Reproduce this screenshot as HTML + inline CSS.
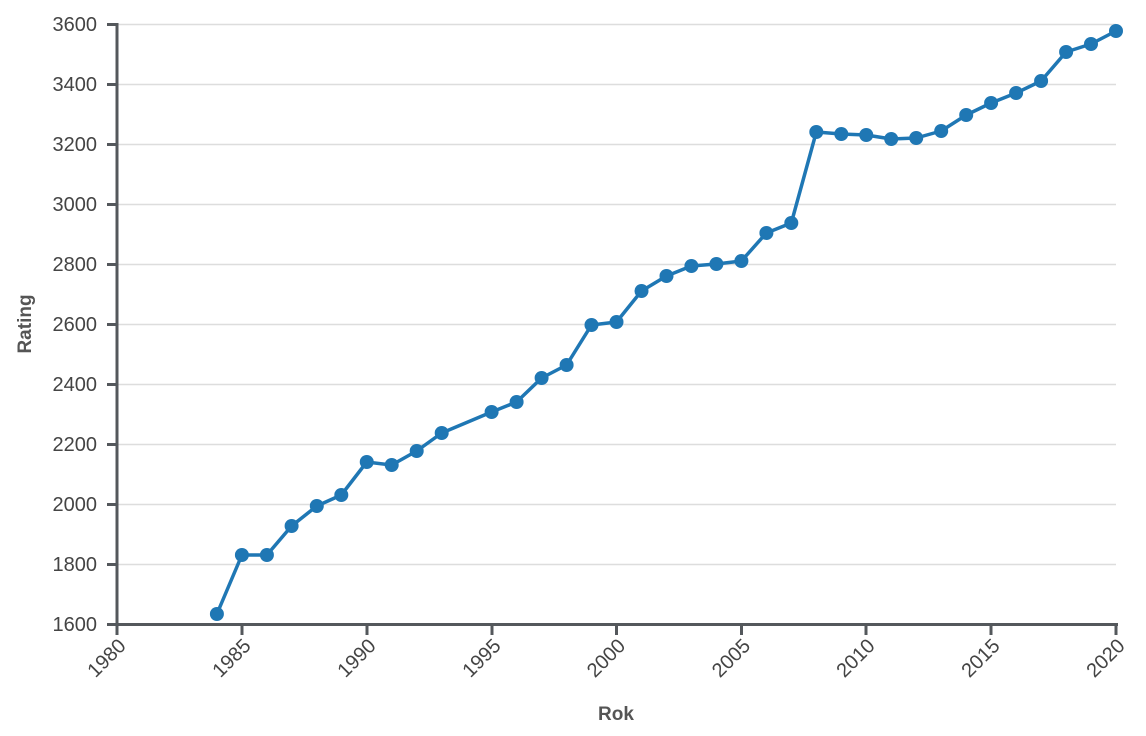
<!DOCTYPE html>
<html><head><meta charset="utf-8"><style>body{margin:0;background:#fff}svg{display:block}</style></head>
<body>
<svg width="1146" height="736" xmlns="http://www.w3.org/2000/svg" font-family="Liberation Sans, Arial, sans-serif">
<g stroke="#ddd" stroke-width="1.5">
<line x1="117" x2="1116" y1="24.5" y2="24.5"/><line x1="117" x2="1116" y1="84.5" y2="84.5"/>
<line x1="117" x2="1116" y1="144.5" y2="144.5"/><line x1="117" x2="1116" y1="204.5" y2="204.5"/>
<line x1="117" x2="1116" y1="264.5" y2="264.5"/><line x1="117" x2="1116" y1="324.5" y2="324.5"/>
<line x1="117" x2="1116" y1="384.5" y2="384.5"/><line x1="117" x2="1116" y1="444.5" y2="444.5"/>
<line x1="117" x2="1116" y1="504.5" y2="504.5"/><line x1="117" x2="1116" y1="564.5" y2="564.5"/>
</g>
<g stroke="#54585c" stroke-width="3">
<line x1="117" x2="117" y1="23" y2="626"/><line x1="116" x2="1118" y1="624.5" y2="624.5"/>
<line x1="107" x2="117" y1="24.5" y2="24.5"/><line x1="107" x2="117" y1="84.5" y2="84.5"/>
<line x1="107" x2="117" y1="144.5" y2="144.5"/><line x1="107" x2="117" y1="204.5" y2="204.5"/>
<line x1="107" x2="117" y1="264.5" y2="264.5"/><line x1="107" x2="117" y1="324.5" y2="324.5"/>
<line x1="107" x2="117" y1="384.5" y2="384.5"/><line x1="107" x2="117" y1="444.5" y2="444.5"/>
<line x1="107" x2="117" y1="504.5" y2="504.5"/><line x1="107" x2="117" y1="564.5" y2="564.5"/>
<line x1="107" x2="117" y1="624.5" y2="624.5"/>
<line x1="117" x2="117" y1="624" y2="635"/><line x1="242" x2="242" y1="624" y2="635"/>
<line x1="367" x2="367" y1="624" y2="635"/><line x1="492" x2="492" y1="624" y2="635"/>
<line x1="616.5" x2="616.5" y1="624" y2="635"/><line x1="741.5" x2="741.5" y1="624" y2="635"/>
<line x1="866" x2="866" y1="624" y2="635"/><line x1="991" x2="991" y1="624" y2="635"/>
<line x1="1116" x2="1116" y1="624" y2="635"/>
</g>
<g fill="#444" font-size="20" text-anchor="end">
<text x="97" y="31">3600</text><text x="97" y="91">3400</text><text x="97" y="151">3200</text>
<text x="97" y="211">3000</text><text x="97" y="271">2800</text><text x="97" y="331">2600</text>
<text x="97" y="391">2400</text><text x="97" y="451">2200</text><text x="97" y="511">2000</text>
<text x="97" y="571">1800</text><text x="97" y="631">1600</text>
<text transform="translate(127,647) rotate(-45)">1980</text>
<text transform="translate(252,647) rotate(-45)">1985</text>
<text transform="translate(377,647) rotate(-45)">1990</text>
<text transform="translate(502,647) rotate(-45)">1995</text>
<text transform="translate(626.5,647) rotate(-45)">2000</text>
<text transform="translate(751.5,647) rotate(-45)">2005</text>
<text transform="translate(876,647) rotate(-45)">2010</text>
<text transform="translate(1001,647) rotate(-45)">2015</text>
<text transform="translate(1126,647) rotate(-45)">2020</text>
</g>
<text x="616" y="720" font-size="19" font-weight="bold" fill="#555" text-anchor="middle">Rok</text>
<text transform="translate(31,324) rotate(-90)" font-size="19" font-weight="bold" fill="#555" text-anchor="middle">Rating</text>
<polyline fill="none" stroke="#1f77b4" stroke-width="3.5" stroke-linejoin="round" points="216.9,614 241.9,555 266.9,555 291.6,526 316.8,506 341.3,495 366.75,462 391.7,465 416.7,451 441.7,433 491.6,412 516.6,402 541.6,378 566.6,365 591.5,325 616.5,322 641.5,291 666.5,276 691.4,266 716.4,264 741.4,261 766.4,233 791.3,223 816.3,132 841.3,134 866.25,135 891.2,139 916.2,138 941.2,131 966.2,115 991.1,103 1016.1,93 1041.1,81 1066.1,52 1091,44 1116,31"/>
<g fill="#1f77b4">
<circle cx="216.9" cy="614" r="7"/><circle cx="241.9" cy="555" r="7"/><circle cx="266.9" cy="555" r="7"/>
<circle cx="291.6" cy="526" r="7"/><circle cx="316.8" cy="506" r="7"/><circle cx="341.3" cy="495" r="7"/>
<circle cx="366.75" cy="462" r="7"/><circle cx="391.7" cy="465" r="7"/><circle cx="416.7" cy="451" r="7"/>
<circle cx="441.7" cy="433" r="7"/><circle cx="491.6" cy="412" r="7"/><circle cx="516.6" cy="402" r="7"/>
<circle cx="541.6" cy="378" r="7"/><circle cx="566.6" cy="365" r="7"/><circle cx="591.5" cy="325" r="7"/>
<circle cx="616.5" cy="322" r="7"/><circle cx="641.5" cy="291" r="7"/><circle cx="666.5" cy="276" r="7"/>
<circle cx="691.4" cy="266" r="7"/><circle cx="716.4" cy="264" r="7"/><circle cx="741.4" cy="261" r="7"/>
<circle cx="766.4" cy="233" r="7"/><circle cx="791.3" cy="223" r="7"/><circle cx="816.3" cy="132" r="7"/>
<circle cx="841.3" cy="134" r="7"/><circle cx="866.25" cy="135" r="7"/><circle cx="891.2" cy="139" r="7"/>
<circle cx="916.2" cy="138" r="7"/><circle cx="941.2" cy="131" r="7"/><circle cx="966.2" cy="115" r="7"/>
<circle cx="991.1" cy="103" r="7"/><circle cx="1016.1" cy="93" r="7"/><circle cx="1041.1" cy="81" r="7"/>
<circle cx="1066.1" cy="52" r="7"/><circle cx="1091" cy="44" r="7"/><circle cx="1116" cy="31" r="7"/>
</g>
</svg>
</body></html>
